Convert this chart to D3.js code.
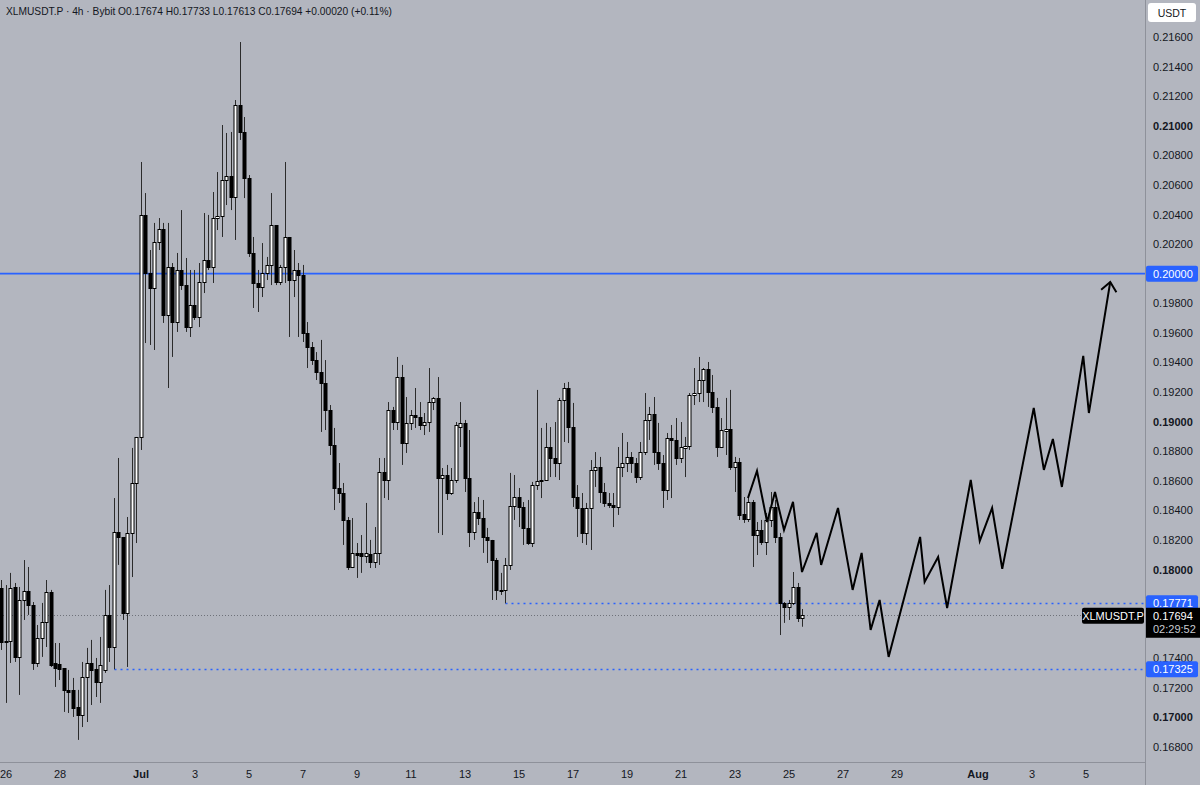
<!DOCTYPE html>
<html>
<head>
<meta charset="utf-8">
<script src="https://cdn.jsdelivr.net/npm/d3@7"></script>
<style>
  body { margin: 0; background: #b3b6bf; }
  svg { display: block; font-family: "Liberation Sans", Arial, sans-serif; }
</style>
</head>
<body>
<svg id="chart" width="1200" height="785"></svg>
<script>
// XLMUSDT.P 4h candles, first bar Jun 25 20:00 UTC
const barStart = Date.UTC(2025, 5, 25, 20);
const barHours = 4;

const opens = [
  .17875,.17510,.17520,.17882,.17409,.17794,.17855,.17760,.17368,.17537,
  .17645,.17848,.17368,.17361,.17334,.17186,.17186,.17071,.17017,.17273,
  .17368,.17328,.17240,.17321,.17693,.17476,.18254,.18220,.17706,.18247,
  .18585,.18896,.20397,.20005,.19903,.20214,.20302,.19721,.20045,.19673,
  .20025,.19923,.19639,.19788,.19707,.19944,.20092,.20045,.20376,.20390,
  .20633,.20660,.20518,.21140,.20958,.20647,.20140,.19937,.19910,.20005,
  .20059,.20329,.19944,.20045,.20248,.19957,.20025,.19991,.19599,.19504,
  .19416,.19335,.19261,.19078,.18842,.18551,.18517,.18335,.18017,.18112,
  .18112,.18091,.18105,.18051,.18112,.18659,.18605,.19078,.18997,.19301,
  .18855,.18991,.19045,.19031,.18977,.18997,.19132,.19160,.18619,.18639,
  .18517,.18605,.18963,.18991,.18619,.18254,.18389,.18348,.18220,.18200,
  .18064,.17862,.17862,.18031,.18429,.18490,.18423,.18281,.18179,.18571,
  .18598,.18605,.18828,.18754,.18720,.19146,.19227,.18963,.18490,.18416,
  .18247,.18416,.18673,.18693,.18524,.18450,.18436,.18423,.18693,.18720,
  .18761,.18720,.18625,.18794,.19011,.19051,.18794,.18720,.18538,.18889,
  .18876,.18754,.18822,.18835,.19180,.19193,.19281,.19356,.19200,.19099,
  .18828,.18937,.18950,.18693,.18727,.18375,.18342,.18456,.18233,.18267,
  .18186,.18335,.18423,.18220,.17774,.17747,.17774,.17882,.17674
];
const highs = [
  .17929,.17895,.17977,.17909,.17882,.18064,.18017,.17780,.17625,.17774,
  .17929,.17862,.17503,.17503,.17334,.17321,.17267,.17186,.17375,.17470,
  .17524,.17402,.17544,.17862,.17895,.18483,.18754,.18220,.18355,.18822,
  .18896,.20755,.20545,.20160,.20343,.20376,.20343,.20343,.20072,.20140,
  .20430,.20106,.20025,.20025,.20072,.20410,.20397,.20552,.20687,.21005,
  .20951,.20958,.21174,.21566,.21059,.20667,.20248,.20025,.20207,.20113,
  .20545,.20329,.20059,.20755,.20248,.20160,.20072,.20059,.19673,.19538,
  .19470,.19552,.19416,.19112,.18957,.18720,.18585,.18355,.18348,.18179,
  .18233,.18450,.18200,.18287,.18754,.18754,.19132,.19099,.19437,.19383,
  .19166,.19078,.19227,.19132,.19058,.19362,.19166,.19301,.18686,.18707,
  .18686,.18997,.19132,.19011,.18943,.18456,.18490,.18470,.18281,.18200,
  .18078,.17977,.18078,.18653,.18639,.18551,.18456,.18470,.18592,.19214,
  .18957,.18991,.18963,.18997,.19160,.19261,.19268,.19126,.18571,.18517,
  .18450,.18740,.18794,.18761,.18585,.18517,.18517,.18828,.18923,.18862,
  .18794,.18754,.18862,.19193,.19099,.19166,.18991,.18774,.18923,.18977,
  .19024,.18997,.18896,.19193,.19362,.19437,.19362,.19403,.19315,.19160,
  .19024,.19160,.19214,.18761,.18754,.18490,.18504,.18470,.18321,.18335,
  .18382,.18524,.18470,.18247,.17780,.17794,.17983,.17909,.17733
];
const lows = [
  .17456,.17098,.17368,.17375,.17152,.17659,.17693,.17321,.17341,.17409,
  .17476,.17341,.17206,.17253,.17037,.17030,.17003,.16848,.16935,.16969,
  .17084,.17138,.17098,.17301,.17375,.17325,.18031,.17659,.17341,.17949,
  .18179,.18808,.19531,.19518,.19484,.20160,.19667,.19227,.19437,.19606,
  .19890,.19606,.19572,.19687,.19639,.19869,.20025,.19937,.20295,.20248,
  .20464,.20430,.20228,.20904,.20511,.20113,.19768,.19741,.19842,.19957,
  .19923,.19923,.19923,.19937,.19572,.19842,.19572,.19538,.19362,.19383,
  .19281,.18930,.18943,.18774,.18402,.18450,.18166,.17997,.18010,.17943,
  .17977,.18044,.18010,.18010,.18031,.18483,.18470,.18943,.18943,.18707,
  .18788,.18943,.18957,.18943,.18909,.18930,.19078,.18247,.18233,.18470,
  .18504,.18585,.18828,.18524,.18152,.18200,.18301,.18112,.18044,.17794,
  .17794,.17828,.17771,.17997,.18335,.18287,.18166,.18166,.18152,.18538,
  .18483,.18605,.18625,.18625,.18605,.18862,.18855,.18423,.18220,.18179,
  .18166,.18132,.18558,.18450,.18423,.18416,.18287,.18369,.18625,.18659,
  .18653,.18585,.18605,.18774,.18876,.18707,.18673,.18416,.18470,.18483,
  .18707,.18720,.18625,.18808,.19112,.19132,.19132,.19099,.19058,.18761,
  .18822,.18774,.18673,.18524,.18335,.18315,.18321,.18017,.18098,.18166,
  .18098,.18287,.18179,.17557,.17639,.17659,.17760,.17645,.17613
];
const closes = [
  .17510,.17520,.17875,.17409,.17794,.17855,.17760,.17368,.17537,.17645,
  .17848,.17355,.17334,.17328,.17186,.17172,.17064,.17017,.17273,.17368,
  .17321,.17240,.17355,.17693,.17476,.18254,.18220,.17706,.18247,.18585,
  .18896,.20397,.20005,.19903,.20214,.20302,.19721,.20045,.19673,.20025,
  .19923,.19639,.19788,.19707,.19944,.20092,.20045,.20376,.20390,.20633,
  .20660,.20518,.21140,.20958,.20647,.20140,.19937,.19910,.20005,.20059,
  .20329,.19944,.20045,.20248,.19957,.20025,.19991,.19599,.19504,.19416,
  .19335,.19261,.19078,.18842,.18551,.18517,.18335,.18017,.18112,.18098,
  .18091,.18112,.18051,.18112,.18659,.18605,.19078,.18997,.19301,.18855,
  .18991,.19045,.19031,.18977,.18997,.19132,.19160,.18619,.18639,.18517,
  .18605,.18977,.18991,.18619,.18254,.18389,.18348,.18220,.18200,.18064,
  .17862,.17855,.18031,.18429,.18490,.18423,.18281,.18179,.18571,.18598,
  .18605,.18828,.18754,.18720,.19146,.19227,.18963,.18490,.18416,.18247,
  .18416,.18673,.18693,.18524,.18450,.18436,.18423,.18693,.18720,.18761,
  .18720,.18625,.18794,.19011,.19051,.18794,.18720,.18538,.18889,.18876,
  .18754,.18828,.18835,.19180,.19193,.19281,.19356,.19200,.19099,.18828,
  .18943,.18950,.18693,.18727,.18369,.18342,.18456,.18233,.18267,.18186,
  .18335,.18423,.18220,.17774,.17747,.17774,.17882,.17674,.17694
];

// projected zigzag path drawn on the chart
const pathTimes = [
  "2025-07-23T12:00","2025-07-23T20:00","2025-07-24T05:00","2025-07-24T12:00",
  "2025-07-24T20:00","2025-07-25T04:00","2025-07-25T12:00","2025-07-26T01:00",
  "2025-07-26T05:00","2025-07-26T20:00","2025-07-27T09:00","2025-07-27T17:00",
  "2025-07-28T01:00","2025-07-28T09:00","2025-07-28T17:00","2025-07-29T21:00",
  "2025-07-30T01:00","2025-07-30T13:00","2025-07-30T21:00","2025-07-31T18:00",
  "2025-08-01T02:00","2025-08-01T13:00","2025-08-01T22:00","2025-08-03T02:00",
  "2025-08-03T11:00","2025-08-03T19:00","2025-08-04T03:00","2025-08-04T22:00",
  "2025-08-05T03:00","2025-08-05T22:00"
];
const pathPrices = [
  0.18483,0.18666,0.18321,0.18524,0.18267,0.18457,0.17983,0.18247,
  0.18031,0.18416,0.17862,0.18112,0.17591,0.17794,0.17409,0.18220,
  0.17916,0.18085,0.17740,0.18605,0.18193,0.18416,0.18004,0.19092,
  0.18673,0.18882,0.18558,0.19444,0.19058,0.19944
];

// horizontal levels
const resistance = 0.20000;
const supportLevels = [0.17771, 0.17325];
const supportStartBar = [112, 25];
const lastPrice = 0.17694;
const countdown = "02:29:52";
const header = ["XLMUSDT.P · 4h · Bybit", "O0.17674", "H0.17733", "L0.17613", "C0.17694", "+0.00020 (+0.11%)"];

const priceTicks = [0.168,0.170,0.172,0.174,0.180,0.182,0.184,0.186,0.188,0.190,
  0.192,0.194,0.196,0.198,0.202,0.204,0.206,0.208,0.210,0.212,0.214,0.216];
const dateTicks = ["2025-06-26","2025-06-28","2025-07-01","2025-07-03","2025-07-05",
  "2025-07-07","2025-07-09","2025-07-11","2025-07-13","2025-07-15","2025-07-17",
  "2025-07-19","2025-07-21","2025-07-23","2025-07-25","2025-07-27","2025-07-29",
  "2025-08-01","2025-08-03","2025-08-05"];

const plotW = 1145, plotH = 762;
const ink = "#131722";
const blue = "#2962ff";

const svg = d3.select("#chart");
svg.append("rect").attr("width", 1200).attr("height", 785).attr("fill", "#b3b6bf");

// 27px per day, Jul 1 at x=140.5
const x = d3.scaleUtc()
  .domain([new Date(Date.UTC(2025, 6, 1)), new Date(Date.UTC(2025, 7, 6))])
  .range([140.5, 140.5 + 36 * 27]);
const y = d3.scaleLinear().domain([0.168, 0.216]).range([747, 37]);

svg.append("clipPath").attr("id", "plot")
  .append("rect").attr("width", plotW).attr("height", plotH);
const plot = svg.append("g").attr("clip-path", "url(#plot)");

const bars = opens.map((o, i) => ({
  t: new Date(barStart + i * barHours * 3600e3),
  o, h: highs[i], l: lows[i], c: closes[i]
}));
const cx = d => Math.round(x(d.t)) + 0.5;

// price levels
plot.append("line")
  .attr("x1", 0).attr("x2", plotW)
  .attr("y1", y(resistance)).attr("y2", y(resistance))
  .attr("stroke", blue).attr("stroke-width", 1.6);

plot.selectAll(".support").data(supportLevels).join("line")
  .attr("class", "support")
  .attr("x1", (d, i) => cx(bars[supportStartBar[i]]))
  .attr("x2", plotW)
  .attr("y1", d => Math.round(y(d)) + 0.5).attr("y2", d => Math.round(y(d)) + 0.5)
  .attr("stroke", blue).attr("stroke-width", 1.5)
  .attr("stroke-dasharray", "2,4");

plot.append("line")
  .attr("x1", 0).attr("x2", plotW)
  .attr("y1", Math.round(y(lastPrice)) + 0.5).attr("y2", Math.round(y(lastPrice)) + 0.5)
  .attr("stroke", "#6f727a").attr("stroke-width", 1)
  .attr("stroke-dasharray", "1,2");

// candles
const candles = plot.append("g");
candles.selectAll(".wick").data(bars).join("line")
  .attr("class", "wick")
  .attr("x1", cx).attr("x2", cx)
  .attr("y1", d => y(d.h)).attr("y2", d => y(d.l))
  .attr("stroke", "#2b2b2b").attr("stroke-width", 1);

candles.selectAll(".body").data(bars).join("rect")
  .attr("class", "body")
  .attr("x", d => cx(d) - 1.5)
  .attr("width", 3)
  .attr("y", d => Math.round(y(Math.max(d.o, d.c))) + 0.5)
  .attr("height", d => Math.max(1, Math.round(Math.abs(y(d.o) - y(d.c)))))
  .attr("fill", d => d.c >= d.o ? "#ffffff" : "#000000")
  .attr("stroke", "#000").attr("stroke-width", 1);

// projection path
const pts = pathTimes.map((t, i) => [x(new Date(t + "Z")), y(pathPrices[i])]);
plot.append("path")
  .attr("d", d3.line()(pts))
  .attr("fill", "none").attr("stroke", "#000")
  .attr("stroke-width", 2).attr("stroke-linejoin", "miter");

const tip = pts[pts.length - 1], prev = pts[pts.length - 2];
const ang = Math.atan2(prev[1] - tip[1], prev[0] - tip[0]);
const wing = a => [tip[0] + 12 * Math.cos(ang + a), tip[1] + 12 * Math.sin(ang + a)];
plot.append("path")
  .attr("d", d3.line()([wing(0.7), tip, wing(-0.7)]))
  .attr("fill", "none").attr("stroke", "#000").attr("stroke-width", 2);

// axis separators
svg.append("line").attr("x1", plotW + 0.5).attr("x2", plotW + 0.5)
  .attr("y1", 0).attr("y2", 785).attr("stroke", "#8e919a");
svg.append("line").attr("x1", 0).attr("x2", plotW)
  .attr("y1", plotH + 0.5).attr("y2", plotH + 0.5).attr("stroke", "#8e919a");

// price axis
const yAxis = svg.append("g")
  .attr("transform", `translate(${plotW},0)`)
  .call(d3.axisRight(y).tickValues(priceTicks).tickSize(0).tickPadding(8)
    .tickFormat(d3.format(".5f")));
yAxis.select(".domain").remove();
yAxis.selectAll("text")
  .attr("fill", ink).attr("font-size", 11)
  .attr("font-family", "Liberation Sans, Arial, sans-serif")
  .attr("font-weight", d => Math.abs(d * 100 - Math.round(d * 100)) < 1e-6 ? "bold" : "normal");

// time axis
const xAxis = svg.append("g")
  .attr("transform", `translate(0,${plotH})`)
  .call(d3.axisBottom(x)
    .tickValues(dateTicks.map(s => new Date(s + "T00:00Z")))
    .tickSize(0).tickPadding(8)
    .tickFormat(d => d.getUTCDate() === 1 ? d3.utcFormat("%b")(d) : d.getUTCDate()));
xAxis.select(".domain").remove();
xAxis.selectAll("text")
  .attr("fill", ink).attr("font-size", 11)
  .attr("font-family", "Liberation Sans, Arial, sans-serif")
  .attr("font-weight", d => d.getUTCDate() === 1 ? "bold" : "normal");

// price tags on the axis
function tag(price, fill, text) {
  const yy = y(price);
  svg.append("rect").attr("x", plotW + 1).attr("y", yy - 8)
    .attr("width", 52).attr("height", 16).attr("rx", 2).attr("fill", fill);
  svg.append("text").attr("x", plotW + 8).attr("y", yy + 4)
    .attr("font-size", 11).attr("fill", "#fff").text(text);
}
tag(resistance, blue, d3.format(".5f")(resistance));
supportLevels.forEach(p => tag(p, blue, d3.format(".5f")(p)));

const ly = y(lastPrice);
svg.append("rect").attr("x", plotW + 1).attr("y", ly - 7)
  .attr("width", 54).attr("height", 30).attr("fill", "#000");
svg.append("text").attr("x", plotW + 8).attr("y", ly + 5)
  .attr("font-size", 11).attr("fill", "#fff").text(d3.format(".5f")(lastPrice));
svg.append("text").attr("x", plotW + 8).attr("y", ly + 18)
  .attr("font-size", 11).attr("fill", "#c9cbd1").text(countdown);
svg.append("rect").attr("x", 1082).attr("y", ly - 7)
  .attr("width", 62).attr("height", 16).attr("rx", 2).attr("fill", "#000");
svg.append("text").attr("x", 1113).attr("y", ly + 5).attr("text-anchor", "middle")
  .attr("font-size", 11).attr("fill", "#fff").text("XLMUSDT.P");

// currency box
svg.append("rect").attr("x", 1148).attr("y", 3).attr("width", 48).attr("height", 19)
  .attr("rx", 3).attr("fill", "#fff");
svg.append("text").attr("x", 1172).attr("y", 16.5).attr("text-anchor", "middle")
  .attr("font-size", 10.5).attr("fill", ink).text("USDT");

// legend header
svg.append("text").attr("x", 6).attr("y", 15)
  .attr("font-size", 11).attr("fill", ink)
  .attr("textLength", 386).attr("lengthAdjust", "spacingAndGlyphs")
  .text(header.join(" "));
</script>
</body>
</html>
